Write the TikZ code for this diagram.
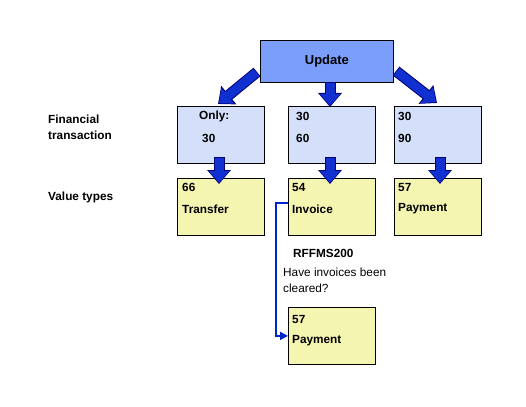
\documentclass[tikz,border=0pt]{standalone}
\usepackage{fontspec}
\setmainfont{Liberation Sans}
\usetikzlibrary{arrows.meta,calc}
\definecolor{updfill}{RGB}{122,158,250}
\definecolor{ftfill}{RGB}{212,224,250}
\definecolor{vtfill}{RGB}{245,245,178}
\definecolor{arrblue}{RGB}{16,48,208}
\definecolor{arrdark}{RGB}{0,0,120}
\definecolor{linkblue}{RGB}{0,36,204}
\begin{document}
\begin{tikzpicture}[x=1pt,y=-1pt,
  box/.style={draw=black, line width=0.8pt, inner sep=0, anchor=north west, minimum width=87pt, minimum height=57pt},
  ftbox/.style={box, fill=ftfill},
  vtbox/.style={box, fill=vtfill},
  txt/.style={inner sep=0, anchor=west, font=\bfseries\fontsize{11.8}{13}\selectfont},
  rtxt/.style={inner sep=0, anchor=west, font=\fontsize{11.8}{16}\selectfont, align=left},
  blkout/.style={line width=11pt, draw=arrdark, -{Triangle[width=23pt,length=14pt]}},
  blkin/.style={line width=9pt, draw=arrblue, shorten >=1.3pt, shorten <=0.8pt, -{Triangle[width=19.5pt,length=11.5pt]}},
  link/.style={draw=linkblue, line width=1.8pt, -{Triangle[width=8pt,length=8pt]}}
]
\useasboundingbox[fill=white] (0,0) rectangle (526,406);

% diagonal block arrows (behind the Update box)
\coordinate (aLs) at (257,72);
\coordinate (aLe) at (218,104);
\coordinate (aRs) at (396,71);
\coordinate (aRe) at (437,103);
\draw[blkout] (aLs) -- (aLe);
\draw[blkin] (aLs) -- (aLe);
\draw[blkout] (aRs) -- (aRe);
\draw[blkin] (aRs) -- (aRe);

% Update box
\node[box, fill=updfill, minimum width=133pt, minimum height=42pt] (upd) at (260,40) {};
\node[inner sep=0, font=\bfseries\fontsize{13}{15}\selectfont] (updt) at (upd.center) {Update};

% financial transaction row
\node[ftbox] (ft1) at (177,106) {};
\node[ftbox] (ft2) at (288,106) {};
\node[ftbox] (ft3) at (394,106) {};

% value type row
\node[vtbox] (vt1) at (177,178) {};
\node[vtbox] (vt2) at (288,178) {};
\node[vtbox] (vt3) at (394,178) {};

% bottom box
\node[vtbox] (vt4) at (288,307) {};

% middle block arrow
\coordinate (aMs) at (330,82);
\coordinate (aMe) at (330,107);
\draw[blkout] (aMs) -- (aMe);
\draw[blkin] (aMs) -- (aMe);

% lower block arrows
\coordinate (b1s) at (219,157);
\coordinate (b1e) at (219,184);
\coordinate (b2s) at (330,157);
\coordinate (b2e) at (330,184);
\coordinate (b3s) at (440,157);
\coordinate (b3e) at (440,184);
\foreach \n in {1,2,3}{
  \draw[blkout] (b\n s) -- (b\n e);
  \draw[blkin] (b\n s) -- (b\n e);
}

% texts in boxes
\node[txt] (t1a) at (199,116) {Only:};
\node[txt] (t1b) at (202,138) {30};
\node[txt] (t2a) at (296,116) {30};
\node[txt] (t2b) at (296,138) {60};
\node[txt] (t3a) at (398,116) {30};
\node[txt] (t3b) at (398,138) {90};

\node[txt] (v1a) at (182,187) {66};
\node[txt] (v1b) at (182,209) {Transfer};
\node[txt] (v2a) at (292,187) {54};
\node[txt] (v2b) at (292,209) {Invoice};
\node[txt] (v3a) at (398,187) {57};
\node[txt] (v3b) at (398,209) {Payment};
\node[txt] (v4a) at (292,319) {57};
\node[txt] (v4b) at (292,341) {Payment};

% side labels
\node[txt, align=left, font=\bfseries\fontsize{11.8}{16}\selectfont] (lft) at (48,127) {Financial\\transaction};
\node[txt] (lvt) at (48,197) {Value types};

% report note
\node[txt] (rep) at (293,253) {RFFMS200};
\node[rtxt] (q) at (283,280) {Have invoices been\\cleared?};

% connector
\coordinate (ls) at ($(vt2.west)+(0,-4)$);
\draw[link] (ls) -- ++(-12,0) |- (vt4.west);
\end{tikzpicture}
\end{document}
